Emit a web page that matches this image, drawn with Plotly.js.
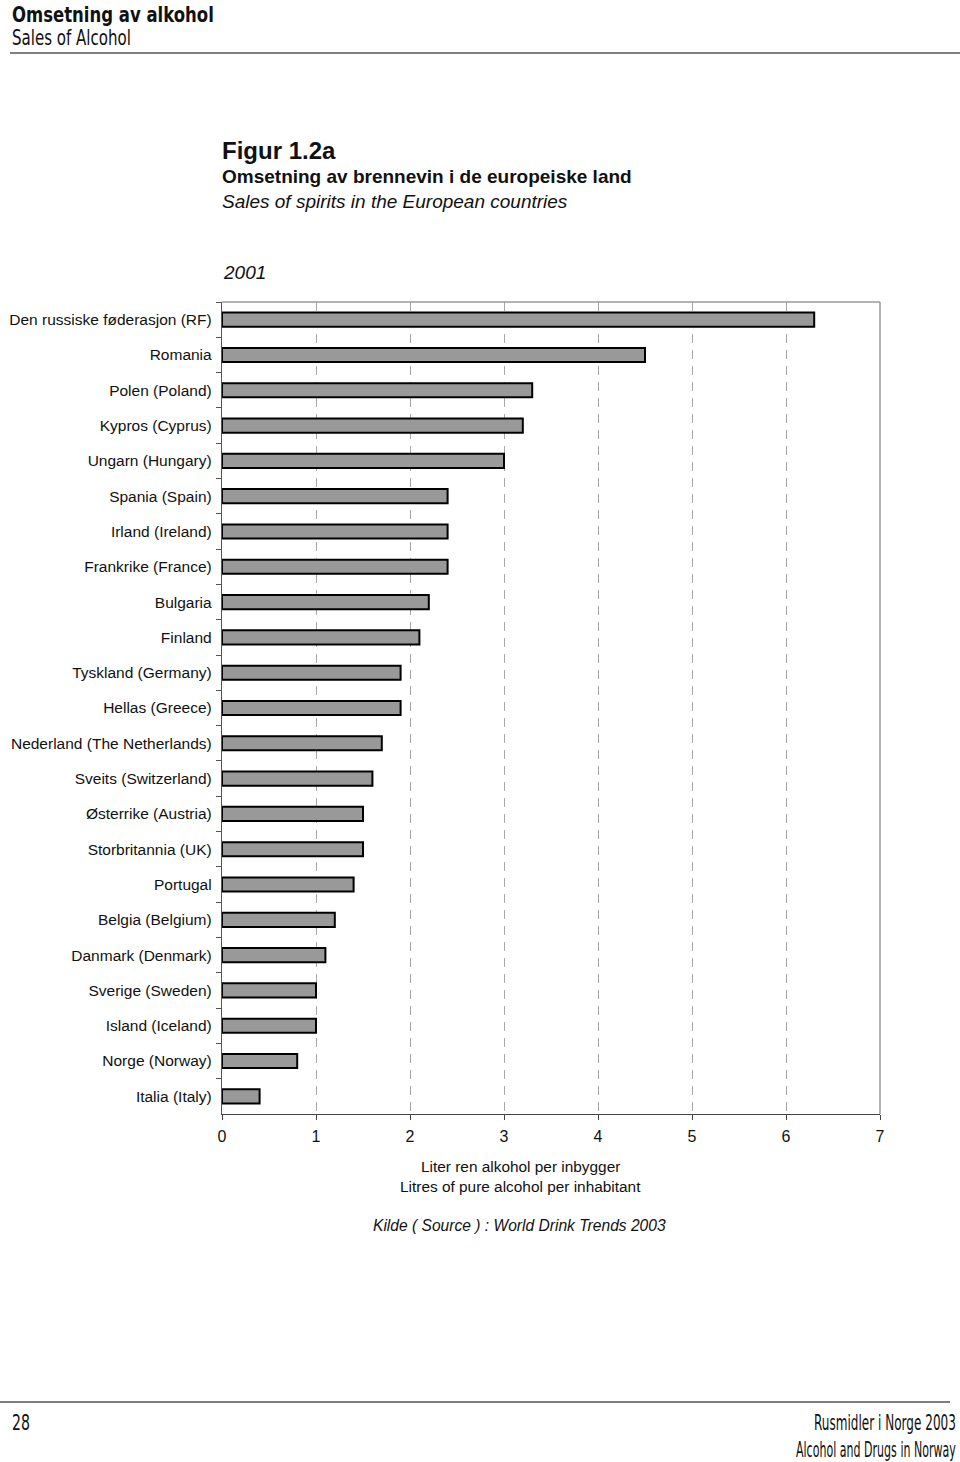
<!DOCTYPE html>
<html><head><meta charset="utf-8">
<script src="https://cdn.plot.ly/plotly-3.0.1.min.js"></script>
<style>body{margin:0;padding:0;background:#fff}#chart{width:960px;height:1462px}</style>
</head><body><div id="chart"></div>
<script>
const countries = ["Den russiske føderasjon (RF)","Romania","Polen (Poland)","Kypros (Cyprus)","Ungarn (Hungary)","Spania (Spain)","Irland (Ireland)","Frankrike (France)","Bulgaria","Finland","Tyskland (Germany)","Hellas (Greece)","Nederland (The Netherlands)","Sveits (Switzerland)","Østerrike (Austria)","Storbritannia (UK)","Portugal","Belgia (Belgium)","Danmark (Denmark)","Sverige (Sweden)","Island (Iceland)","Norge (Norway)","Italia (Italy)"];
const litres = [6.3,4.5,3.3,3.2,3.0,2.4,2.4,2.4,2.2,2.1,1.9,1.9,1.7,1.6,1.5,1.5,1.4,1.2,1.1,1.0,1.0,0.8,0.4];
const xTicks = [0,1,2,3,4,5,6,7];

const AR = "Liberation Sans, Arial, sans-serif";
const NARROW = "DejaVu Sans, sans-serif";

const trace = {
  type: "bar", orientation: "h",
  x: litres, y: countries,
  width: 0.4,
  marker: {color: "#999999", line: {color: "#000000", width: 2}},
  hoverinfo: "skip"
};

const layout = {
  width: 960, height: 1462,
  margin: {l: 222, r: 80, t: 302, b: 348},
  paper_bgcolor: "#fff", plot_bgcolor: "#fff",
  showlegend: false,
  xaxis: {
    range: [0, 7], tickvals: xTicks, ticktext: xTicks.map(String),
    showgrid: true, gridcolor: "#a8a8a8", griddash: "9px,7px", gridwidth: 1,
    showline: true, linecolor: "#444", linewidth: 1.2,
    ticks: "outside", ticklen: 5, tickcolor: "#444",
    ticklabelstandoff: 3,
    tickfont: {family: AR, size: 16, color: "#111"},
    zeroline: false, fixedrange: true
  },
  yaxis: {
    categoryorder: "array", categoryarray: countries,
    autorange: "reversed",
    showline: true, linecolor: "#555", linewidth: 1.2,
    ticks: "outside", ticklen: 5, tickcolor: "#555", tickson: "boundaries",
    ticklabelstandoff: 6,
    tickfont: {family: AR, size: 15.5, color: "#111"},
    showgrid: false, fixedrange: true
  },
  shapes: [
    {type: "line", xref: "paper", yref: "paper", x0: 0, x1: 1, y0: 1, y1: 1, line: {color: "#999", width: 1.5}},
    {type: "line", xref: "paper", yref: "paper", x0: 1, x1: 1, y0: 0, y1: 1, line: {color: "#999", width: 1.5}},
    {type: "line", xref: "paper", yref: "paper", x0: -0.3222, x1: 1.1216, y0: 1.3067, y1: 1.3067, line: {color: "#555", width: 1.5}},
    {type: "line", xref: "paper", yref: "paper", x0: -0.3374, x1: 1.1064, y0: -0.3547, y1: -0.3547, line: {color: "#555", width: 1.5}}
  ],
  annotations: []
};

function px(xp){ return (xp - 222) / 658; }
function py(yp){ return (1114 - yp) / 812; }
function ann(text, x, y, font, xanchor){
  layout.annotations.push({text: text, xref: "paper", yref: "paper", x: px(x), y: py(y),
    xanchor: xanchor || "left", yanchor: "middle", showarrow: false, font: font});
}
ann("Omsetning av alkohol", 12, 14, {family: NARROW, size: 22, weight: 700, color: "#111"});
ann("Sales of Alcohol", 12, 38, {family: NARROW, size: 22, color: "#111"});
ann("Figur 1.2a", 220, 150, {family: AR, size: 24, weight: 700, color: "#111"});
ann("<b>Omsetning av brennevin i de europeiske land</b>", 220, 176, {family: AR, size: 19, color: "#111"});
ann("<i>Sales of spirits in the European countries</i>", 220, 201, {family: AR, size: 19, color: "#111"});
ann("<i>2001</i>", 221, 272, {family: AR, size: 19, color: "#111"});
ann("Liter ren alkohol per inbygger", 520, 1166, {family: AR, size: 15.4, color: "#111"}, "center");
ann("Litres of pure alcohol per inhabitant", 520, 1186, {family: AR, size: 15.4, color: "#111"}, "center");
ann("<i>Kilde ( Source ) : World Drink Trends 2003</i>", 519, 1225, {family: AR, size: 15.6, color: "#111"}, "center");
ann("28", 12, 1423, {family: NARROW, size: 21, color: "#111"});
ann("Rusmidler i Norge 2003", 900, 1423, {family: NARROW, size: 21, color: "#111"}, "right");
ann("Alcohol and Drugs in Norway", 900, 1450, {family: NARROW, size: 21, color: "#111"}, "right");

// condensed look for the page header/footer: target left edge and width in pixels
const narrowFit = [
  {text: "Omsetning av alkohol", left: 12, width: 202},
  {text: "Sales of Alcohol", left: 12, width: 119},
  {text: "28", left: 12, width: 18},
  {text: "Rusmidler i Norge 2003", left: 814, width: 142},
  {text: "Alcohol and Drugs in Norway", left: 796, width: 160}
];

Plotly.newPlot("chart", [trace], layout, {displayModeBar: false, staticPlot: true}).then(function(gd){
  const holder = gd.getBoundingClientRect();
  gd.querySelectorAll(".annotation-text").forEach(function(el){
    const f = narrowFit.find(function(n){ return n.text === el.textContent; });
    if(!f) return;
    const w0 = el.getComputedTextLength();
    const s0 = parseFloat(window.getComputedStyle(el).fontSize);
    const s = s0 * f.width / w0;
    el.style.fontSize = s + "px";
    const k = s0 / s;
    const y = parseFloat(el.getAttribute("y") || 0);
    el.setAttribute("transform", "translate(0 " + y + ") scale(1 " + k + ") translate(0 " + (-y) + ")");
    const r = el.getBoundingClientRect();
    const dx = (f.left + holder.left) - r.left;
    el.setAttribute("x", parseFloat(el.getAttribute("x") || 0) + dx);
  });
});
</script></body></html>
